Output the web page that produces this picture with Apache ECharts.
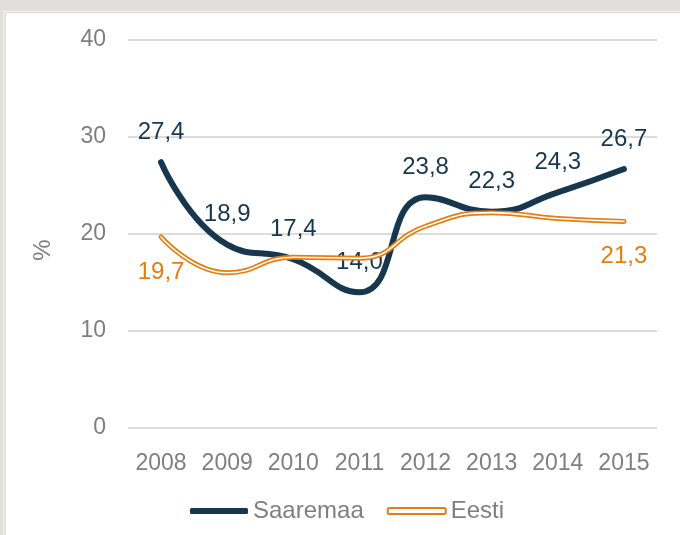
<!DOCTYPE html>
<html>
<head>
<meta charset="utf-8">
<title>Saaremaa / Eesti</title>
<script src="https://cdn.jsdelivr.net/npm/echarts@6/dist/echarts.min.js"></script>
<style>
  html, body { margin: 0; padding: 0; background: #fff; }
  #chart { width: 680px; height: 535px; }
</style>
</head>
<body>
<div id="chart"></div>
<script>
// data
const years = ['2008', '2009', '2010', '2011', '2012', '2013', '2014', '2015']
const saaremaa = [27.4, 18.9, 17.4, 14.0, 23.8, 22.3, 24.3, 26.7]
const eesti = [19.7, 16.0, 17.6, 17.5, 20.8, 22.2, 21.6, 21.3]
// only first and last Eesti points carry a label
const eestiLabelIdx = [0, 7]

const navy = '#17374e'
const orange = '#e67e0e'
const grey = '#7f7f7f'
const font = 'Liberation Sans, Arial, sans-serif'
const clear = 'rgba(0,0,0,0)'

const comma = (v) => v.toFixed(1).replace('.', ',')

const chart = echarts.init(document.getElementById('chart'))
const option = {
  animation: false,
  backgroundColor: '#fff',
  textStyle: { fontFamily: font },
  graphic: [
    // window frame, top and left
    { type: 'rect', shape: { x: 0, y: 0, width: 680, height: 11 }, style: { fill: '#e0dfda' }, silent: true },
    { type: 'rect', shape: { x: 0, y: 0, width: 3.5, height: 535 }, style: { fill: '#e0dfda' }, silent: true },
    {
      type: 'polyline',
      shape: { points: [[5, 535], [5, 12.5], [680, 12.5]] },
      style: { stroke: '#dcdcdc', lineWidth: 1.5, fill: null },
      silent: true
    }
  ],
  grid: {
    left: 128,
    right: 23,
    top: 40,
    bottom: 107
  },
  legend: {
    left: 185,
    top: 494,
    itemWidth: 58,
    itemHeight: 6,
    itemGap: 23,
    textStyle: { color: grey, fontSize: 24, fontFamily: font },
    data: [
      { name: 'Saaremaa', icon: 'roundRect', itemStyle: { color: navy, borderWidth: 0, opacity: 1 } },
      { name: 'Eesti', icon: 'roundRect', itemStyle: { color: '#fff', borderColor: orange, borderWidth: 2, opacity: 1 } }
    ]
  },
  xAxis: {
    type: 'category',
    data: years,
    boundaryGap: true,
    axisLine: { show: false },
    axisTick: { show: false },
    axisLabel: { color: grey, fontSize: 23, margin: 24, interval: 0 }
  },
  yAxis: {
    type: 'value',
    min: 0,
    max: 40,
    interval: 10,
    name: '%',
    nameLocation: 'middle',
    nameRotate: 90,
    nameGap: 73,
    nameTextStyle: { color: grey, fontSize: 24, padding: [0, 32, 0, 0] },
    axisLine: { show: false },
    axisTick: { show: false },
    axisLabel: { color: grey, fontSize: 23, margin: 22 },
    splitLine: { lineStyle: { color: '#dcdcdc', width: 2 } }
  },
  series: [
    {
      name: 'Saaremaa',
      type: 'line',
      data: saaremaa,
      smooth: 0.5,
      symbol: 'circle',
      symbolSize: 2,
      showSymbol: true,
      lineStyle: { color: navy, width: 6, cap: 'round' },
      itemStyle: { color: clear, borderWidth: 0 },
      label: {
        show: true,
        position: 'top',
        distance: 17,
        color: navy,
        fontSize: 24,
        formatter: (p) => comma(p.value)
      },
      labelLayout: { hideOverlap: false },
      z: 2
    },
    {
      name: 'Eesti',
      type: 'line',
      data: eesti,
      smooth: 0.5,
      symbol: 'circle',
      symbolSize: 2,
      showSymbol: true,
      lineStyle: { color: orange, width: 5, cap: 'round' },
      itemStyle: { color: clear, borderWidth: 0 },
      label: {
        show: true,
        position: 'bottom',
        distance: 22,
        color: orange,
        fontSize: 24,
        formatter: (p) => (eestiLabelIdx.includes(p.dataIndex) ? comma(p.value) : '')
      },
      z: 3
    },
    {
      // white core that makes the Eesti line look doubled
      name: 'Eesti',
      type: 'line',
      data: eesti,
      smooth: 0.5,
      symbol: 'none',
      lineStyle: { color: '#fff', width: 1.6, cap: 'round' },
      itemStyle: { color: orange },
      z: 4
    }
  ]
}
chart.setOption(option)
</script>
</body>
</html>
